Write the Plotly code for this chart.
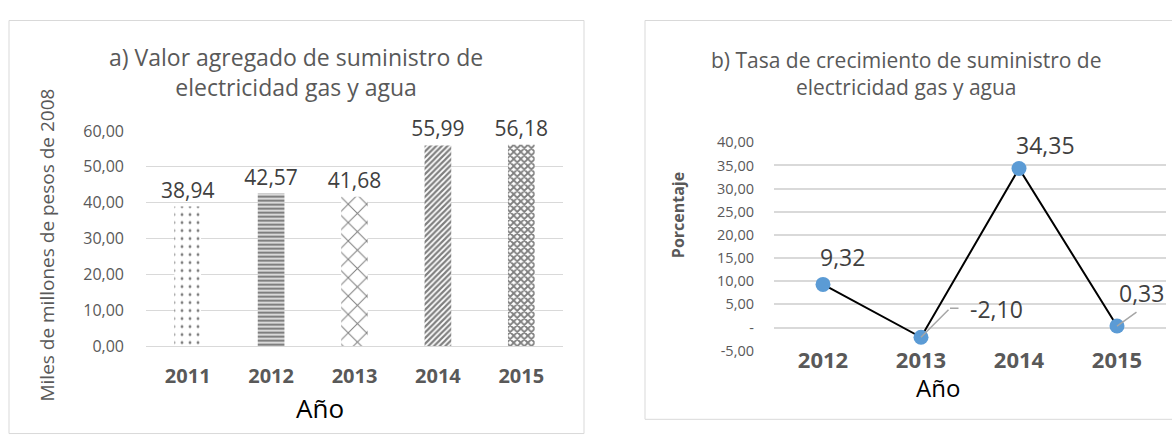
import plotly.graph_objects as go

# --- datos ---
anios_valor = ["2011", "2012", "2013", "2014", "2015"]
valor = [38.94, 42.57, 41.68, 55.99, 56.18]

anios_tasa = ["2012", "2013", "2014", "2015"]
tasa = [9.32, -2.10, 34.35, 0.33]
etiquetas_tasa = ["9,32", "-2,10", "34,35", "0,33"]

ticks_tasa = [-5, 0, 5, 10, 15, 20, 25, 30, 35, 40]
ticktext_tasa = ["-5,00", "-", "5,00", "10,00", "15,00", "20,00", "25,00", "30,00", "35,00", "40,00"]

W, H = 1172, 436
FONT = "Open Sans"
GRIS = "#595959"
GRID = "#D9D9D9"


def px(x):
    return x / W


def py(y):
    return 1 - y / H


fig = go.Figure()

# a) barras con tramas
fig.add_trace(go.Bar(
    x=anios_valor, y=valor, xaxis="x", yaxis="y", width=0.32,
    marker=dict(color="white", line_width=0,
                pattern=dict(shape=[".", "-", "x", "/", "x"],
                             size=[8, 4, 13, 4, 5],
                             solidity=[0.1, 0.65, 0.15, 0.55, 0.6],
                             fgcolor="black", bgcolor="white")),
    texttemplate="%{y:.2f}", textposition="outside", cliponaxis=False,
    constraintext="none",
    textfont=dict(family=FONT, size=21, color="#404040"),
    showlegend=False,
))

# b) linea con marcadores
fig.add_trace(go.Scatter(
    x=anios_tasa, y=tasa, xaxis="x2", yaxis="y2", mode="lines+markers",
    line=dict(color="black", width=2),
    marker=dict(color="#5B9BD5", size=15),
    cliponaxis=False, showlegend=False,
))

# etiquetas: desplazamiento en px respecto al punto
desplaz = [(19, 27), (75, 28), (26, 23), (24, 33)]
for i, (yv, txt, (dx, dy)) in enumerate(zip(tasa, etiquetas_tasa, desplaz)):
    fig.add_annotation(x=i, y=yv, xref="x2", yref="y2", text=txt,
                       showarrow=False, xshift=dx, yshift=dy,
                       font=dict(family=FONT, size=23, color="#404040"))

# lineas guia (-2,10 y 0,33)
guias = [(1, 0, 0, 29, -29), (1, 29, 29, 10, 0), (3, 0, 0, 21, -15)]
for i, sx, sy, ax, ay in guias:
    fig.add_annotation(x=i, y=tasa[i], xref="x2", yref="y2", text="",
                       showarrow=True, arrowhead=0, arrowwidth=1.5,
                       arrowcolor="#A6A6A6", ax=ax, ay=ay, standoff=0,
                       xshift=sx, yshift=sy)

# titulos y ejes como texto
textos = [
    ("a) Valor agregado de suministro de<br>electricidad gas y agua", 296, 64, 23, GRIS, 0, None),
    ("b) Tasa de crecimiento de suministro de<br>electricidad gas y agua", 906, 66, 21, GRIS, 0, None),
    ("Año", 320, 418, 26, "black", 0, None),
    ("Año", 938, 396, 24, "black", 0, None),
    ("Miles de millones de pesos de 2008", 47, 247, 19, GRIS, -90, None),
    ("Porcentaje", 678, 215, 16, GRIS, -90, "bold"),
]
for txt, x, y, s, c, ang, w in textos:
    fig.add_annotation(x=px(x), y=py(y), xref="paper", yref="paper", text=txt,
                       showarrow=False, textangle=ang, xanchor="center", yanchor="middle",
                       font=dict(family=FONT, size=s, color=c, weight=w or "normal"))

# marcos de los paneles
fig.add_shape(type="rect", xref="paper", yref="paper", x0=px(9), x1=px(584),
              y0=py(10), y1=py(445), line=dict(color=GRID, width=1))
fig.add_shape(type="rect", xref="paper", yref="paper", x0=px(645), x1=px(1180),
              y0=py(10), y1=py(430), line=dict(color=GRID, width=1))

fig.update_layout(
    width=W, height=H, margin=dict(l=0, r=0, t=0, b=0),
    paper_bgcolor="white", plot_bgcolor="white",
    separators=",.",
    font=dict(family=FONT, color=GRIS),
    xaxis=dict(domain=[px(146), px(563)], anchor="y", type="category",
               showgrid=False, showline=True, linecolor=GRID, ticks="",
               tickfont=dict(size=20, weight="bold", color=GRIS), ticklabelstandoff=12),
    yaxis=dict(domain=[py(353), py(126)], anchor="x", range=[0, 60.1], dtick=10,
               tickformat=".2f", showgrid=True, gridcolor=GRID, zeroline=False,
               tickfont=dict(size=16, color=GRIS), ticklabelstandoff=21),
    xaxis2=dict(domain=[px(774), px(1166)], anchor="y2", type="category",
                range=[-0.5, 3.5],
                showgrid=False, showline=False, ticks="",
                tickfont=dict(size=22, weight="bold", color=GRIS), ticklabelstandoff=-6),
    yaxis2=dict(domain=[py(358), py(138)], anchor="x2", range=[-5.05, 40.05],
                tickvals=ticks_tasa, ticktext=ticktext_tasa,
                showgrid=True, gridcolor=GRID, gridwidth=1.5, zeroline=False,
                tickfont=dict(size=14.5, color=GRIS), ticklabelstandoff=19),
)

fig.write_html("out.html", config={"displayModeBar": False},
               post_script="document.body.style.margin='0';")
